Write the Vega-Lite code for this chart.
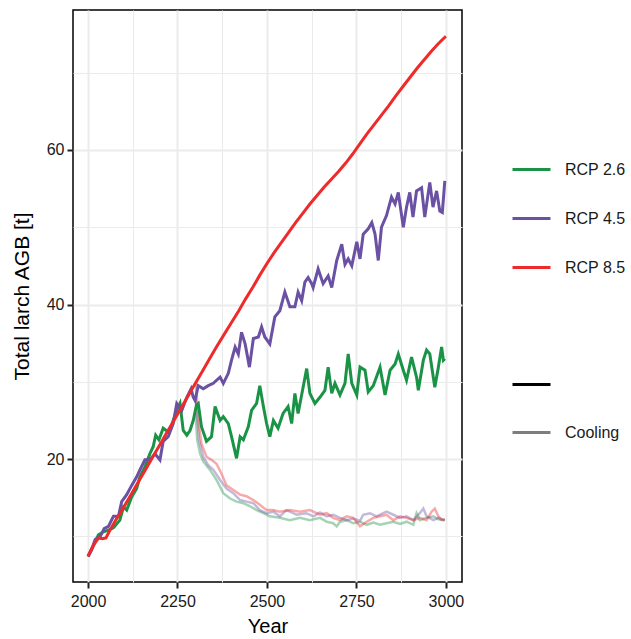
{
  "$schema": "https://vega.github.io/schema/vega-lite/v6.json",
  "width": 389,
  "height": 572,
  "autosize": {"type": "none"},
  "padding": {"left": 73, "top": 10, "right": 169, "bottom": 57},
  "background": "white",
  "config": {
    "font": "Liberation Sans",
    "view": {"stroke": "black", "strokeWidth": 1.5}
  },
  "datasets": {
    "main": [
      {"Year":2000,"AGB":7.4,"Scenario":"RCP 2.6"},{"Year":2010,"AGB":8.3,"Scenario":"RCP 2.6"},{"Year":2029,"AGB":10.2,"Scenario":"RCP 2.6"},{"Year":2043,"AGB":10.6,"Scenario":"RCP 2.6"},{"Year":2057,"AGB":10.8,"Scenario":"RCP 2.6"},{"Year":2071,"AGB":11.1,"Scenario":"RCP 2.6"},{"Year":2089,"AGB":12.1,"Scenario":"RCP 2.6"},{"Year":2099,"AGB":13.8,"Scenario":"RCP 2.6"},{"Year":2108,"AGB":13.4,"Scenario":"RCP 2.6"},{"Year":2122,"AGB":15.1,"Scenario":"RCP 2.6"},{"Year":2136,"AGB":16.2,"Scenario":"RCP 2.6"},{"Year":2145,"AGB":17.7,"Scenario":"RCP 2.6"},{"Year":2159,"AGB":19.0,"Scenario":"RCP 2.6"},{"Year":2173,"AGB":20.7,"Scenario":"RCP 2.6"},{"Year":2182,"AGB":21.6,"Scenario":"RCP 2.6"},{"Year":2189,"AGB":23.1,"Scenario":"RCP 2.6"},{"Year":2198,"AGB":22.5,"Scenario":"RCP 2.6"},{"Year":2210,"AGB":24.0,"Scenario":"RCP 2.6"},{"Year":2224,"AGB":23.5,"Scenario":"RCP 2.6"},{"Year":2235,"AGB":24.6,"Scenario":"RCP 2.6"},{"Year":2248,"AGB":26.3,"Scenario":"RCP 2.6"},{"Year":2257,"AGB":27.2,"Scenario":"RCP 2.6"},{"Year":2266,"AGB":23.7,"Scenario":"RCP 2.6"},{"Year":2276,"AGB":23.1,"Scenario":"RCP 2.6"},{"Year":2285,"AGB":23.7,"Scenario":"RCP 2.6"},{"Year":2294,"AGB":25.0,"Scenario":"RCP 2.6"},{"Year":2303,"AGB":27.0,"Scenario":"RCP 2.6"},{"Year":2308,"AGB":27.2,"Scenario":"RCP 2.6"},{"Year":2317,"AGB":24.2,"Scenario":"RCP 2.6"},{"Year":2331,"AGB":22.3,"Scenario":"RCP 2.6"},{"Year":2345,"AGB":22.9,"Scenario":"RCP 2.6"},{"Year":2355,"AGB":26.8,"Scenario":"RCP 2.6"},{"Year":2369,"AGB":25.0,"Scenario":"RCP 2.6"},{"Year":2378,"AGB":25.5,"Scenario":"RCP 2.6"},{"Year":2392,"AGB":24.6,"Scenario":"RCP 2.6"},{"Year":2401,"AGB":22.9,"Scenario":"RCP 2.6"},{"Year":2415,"AGB":20.1,"Scenario":"RCP 2.6"},{"Year":2425,"AGB":22.9,"Scenario":"RCP 2.6"},{"Year":2434,"AGB":22.5,"Scenario":"RCP 2.6"},{"Year":2448,"AGB":24.2,"Scenario":"RCP 2.6"},{"Year":2457,"AGB":26.3,"Scenario":"RCP 2.6"},{"Year":2471,"AGB":27.2,"Scenario":"RCP 2.6"},{"Year":2480,"AGB":29.5,"Scenario":"RCP 2.6"},{"Year":2490,"AGB":26.8,"Scenario":"RCP 2.6"},{"Year":2499,"AGB":24.6,"Scenario":"RCP 2.6"},{"Year":2508,"AGB":22.9,"Scenario":"RCP 2.6"},{"Year":2518,"AGB":25.0,"Scenario":"RCP 2.6"},{"Year":2531,"AGB":24.0,"Scenario":"RCP 2.6"},{"Year":2545,"AGB":25.9,"Scenario":"RCP 2.6"},{"Year":2559,"AGB":26.8,"Scenario":"RCP 2.6"},{"Year":2569,"AGB":24.6,"Scenario":"RCP 2.6"},{"Year":2578,"AGB":28.5,"Scenario":"RCP 2.6"},{"Year":2587,"AGB":25.9,"Scenario":"RCP 2.6"},{"Year":2601,"AGB":29.3,"Scenario":"RCP 2.6"},{"Year":2611,"AGB":31.7,"Scenario":"RCP 2.6"},{"Year":2620,"AGB":28.5,"Scenario":"RCP 2.6"},{"Year":2634,"AGB":27.2,"Scenario":"RCP 2.6"},{"Year":2648,"AGB":28.0,"Scenario":"RCP 2.6"},{"Year":2662,"AGB":28.9,"Scenario":"RCP 2.6"},{"Year":2671,"AGB":31.9,"Scenario":"RCP 2.6"},{"Year":2681,"AGB":28.5,"Scenario":"RCP 2.6"},{"Year":2690,"AGB":29.8,"Scenario":"RCP 2.6"},{"Year":2704,"AGB":28.3,"Scenario":"RCP 2.6"},{"Year":2718,"AGB":29.8,"Scenario":"RCP 2.6"},{"Year":2727,"AGB":33.6,"Scenario":"RCP 2.6"},{"Year":2737,"AGB":29.8,"Scenario":"RCP 2.6"},{"Year":2751,"AGB":28.3,"Scenario":"RCP 2.6"},{"Year":2760,"AGB":31.9,"Scenario":"RCP 2.6"},{"Year":2774,"AGB":31.5,"Scenario":"RCP 2.6"},{"Year":2783,"AGB":28.7,"Scenario":"RCP 2.6"},{"Year":2797,"AGB":29.5,"Scenario":"RCP 2.6"},{"Year":2816,"AGB":31.9,"Scenario":"RCP 2.6"},{"Year":2830,"AGB":28.3,"Scenario":"RCP 2.6"},{"Year":2844,"AGB":31.5,"Scenario":"RCP 2.6"},{"Year":2858,"AGB":32.3,"Scenario":"RCP 2.6"},{"Year":2867,"AGB":33.6,"Scenario":"RCP 2.6"},{"Year":2881,"AGB":31.5,"Scenario":"RCP 2.6"},{"Year":2890,"AGB":30.2,"Scenario":"RCP 2.6"},{"Year":2904,"AGB":33.2,"Scenario":"RCP 2.6"},{"Year":2918,"AGB":30.6,"Scenario":"RCP 2.6"},{"Year":2923,"AGB":28.9,"Scenario":"RCP 2.6"},{"Year":2937,"AGB":32.8,"Scenario":"RCP 2.6"},{"Year":2946,"AGB":34.1,"Scenario":"RCP 2.6"},{"Year":2955,"AGB":33.6,"Scenario":"RCP 2.6"},{"Year":2969,"AGB":29.3,"Scenario":"RCP 2.6"},{"Year":2979,"AGB":31.9,"Scenario":"RCP 2.6"},{"Year":2988,"AGB":34.5,"Scenario":"RCP 2.6"},{"Year":2993,"AGB":32.8,"Scenario":"RCP 2.6"},{"Year":2997,"AGB":33.0,"Scenario":"RCP 2.6"},
      {"Year":2000,"AGB":7.4,"Scenario":"RCP 4.5"},{"Year":2010,"AGB":8.3,"Scenario":"RCP 4.5"},{"Year":2020,"AGB":9.6,"Scenario":"RCP 4.5"},{"Year":2034,"AGB":10.0,"Scenario":"RCP 4.5"},{"Year":2045,"AGB":11.0,"Scenario":"RCP 4.5"},{"Year":2057,"AGB":11.3,"Scenario":"RCP 4.5"},{"Year":2071,"AGB":12.6,"Scenario":"RCP 4.5"},{"Year":2085,"AGB":12.6,"Scenario":"RCP 4.5"},{"Year":2094,"AGB":14.5,"Scenario":"RCP 4.5"},{"Year":2108,"AGB":15.4,"Scenario":"RCP 4.5"},{"Year":2122,"AGB":16.6,"Scenario":"RCP 4.5"},{"Year":2136,"AGB":17.7,"Scenario":"RCP 4.5"},{"Year":2145,"AGB":18.6,"Scenario":"RCP 4.5"},{"Year":2159,"AGB":19.9,"Scenario":"RCP 4.5"},{"Year":2173,"AGB":19.9,"Scenario":"RCP 4.5"},{"Year":2187,"AGB":20.7,"Scenario":"RCP 4.5"},{"Year":2201,"AGB":19.9,"Scenario":"RCP 4.5"},{"Year":2210,"AGB":22.3,"Scenario":"RCP 4.5"},{"Year":2224,"AGB":22.9,"Scenario":"RCP 4.5"},{"Year":2238,"AGB":24.6,"Scenario":"RCP 4.5"},{"Year":2248,"AGB":27.2,"Scenario":"RCP 4.5"},{"Year":2262,"AGB":26.3,"Scenario":"RCP 4.5"},{"Year":2276,"AGB":28.0,"Scenario":"RCP 4.5"},{"Year":2288,"AGB":29.1,"Scenario":"RCP 4.5"},{"Year":2294,"AGB":28.0,"Scenario":"RCP 4.5"},{"Year":2299,"AGB":27.6,"Scenario":"RCP 4.5"},{"Year":2308,"AGB":29.5,"Scenario":"RCP 4.5"},{"Year":2322,"AGB":29.1,"Scenario":"RCP 4.5"},{"Year":2336,"AGB":29.5,"Scenario":"RCP 4.5"},{"Year":2350,"AGB":29.8,"Scenario":"RCP 4.5"},{"Year":2359,"AGB":30.2,"Scenario":"RCP 4.5"},{"Year":2369,"AGB":30.6,"Scenario":"RCP 4.5"},{"Year":2378,"AGB":29.8,"Scenario":"RCP 4.5"},{"Year":2392,"AGB":31.1,"Scenario":"RCP 4.5"},{"Year":2401,"AGB":32.8,"Scenario":"RCP 4.5"},{"Year":2411,"AGB":34.5,"Scenario":"RCP 4.5"},{"Year":2420,"AGB":33.6,"Scenario":"RCP 4.5"},{"Year":2429,"AGB":36.4,"Scenario":"RCP 4.5"},{"Year":2439,"AGB":34.9,"Scenario":"RCP 4.5"},{"Year":2451,"AGB":31.9,"Scenario":"RCP 4.5"},{"Year":2462,"AGB":35.6,"Scenario":"RCP 4.5"},{"Year":2476,"AGB":35.8,"Scenario":"RCP 4.5"},{"Year":2485,"AGB":37.1,"Scenario":"RCP 4.5"},{"Year":2494,"AGB":35.8,"Scenario":"RCP 4.5"},{"Year":2508,"AGB":34.9,"Scenario":"RCP 4.5"},{"Year":2522,"AGB":38.4,"Scenario":"RCP 4.5"},{"Year":2536,"AGB":39.2,"Scenario":"RCP 4.5"},{"Year":2550,"AGB":41.6,"Scenario":"RCP 4.5"},{"Year":2564,"AGB":39.7,"Scenario":"RCP 4.5"},{"Year":2578,"AGB":39.7,"Scenario":"RCP 4.5"},{"Year":2587,"AGB":41.6,"Scenario":"RCP 4.5"},{"Year":2597,"AGB":40.5,"Scenario":"RCP 4.5"},{"Year":2606,"AGB":42.9,"Scenario":"RCP 4.5"},{"Year":2615,"AGB":43.5,"Scenario":"RCP 4.5"},{"Year":2625,"AGB":42.7,"Scenario":"RCP 4.5"},{"Year":2629,"AGB":42.2,"Scenario":"RCP 4.5"},{"Year":2643,"AGB":44.6,"Scenario":"RCP 4.5"},{"Year":2657,"AGB":42.7,"Scenario":"RCP 4.5"},{"Year":2671,"AGB":43.7,"Scenario":"RCP 4.5"},{"Year":2681,"AGB":42.2,"Scenario":"RCP 4.5"},{"Year":2695,"AGB":45.7,"Scenario":"RCP 4.5"},{"Year":2709,"AGB":47.8,"Scenario":"RCP 4.5"},{"Year":2718,"AGB":45.2,"Scenario":"RCP 4.5"},{"Year":2727,"AGB":45.9,"Scenario":"RCP 4.5"},{"Year":2737,"AGB":45.0,"Scenario":"RCP 4.5"},{"Year":2751,"AGB":48.1,"Scenario":"RCP 4.5"},{"Year":2760,"AGB":45.9,"Scenario":"RCP 4.5"},{"Year":2769,"AGB":49.1,"Scenario":"RCP 4.5"},{"Year":2783,"AGB":49.8,"Scenario":"RCP 4.5"},{"Year":2793,"AGB":50.6,"Scenario":"RCP 4.5"},{"Year":2802,"AGB":49.1,"Scenario":"RCP 4.5"},{"Year":2811,"AGB":45.7,"Scenario":"RCP 4.5"},{"Year":2820,"AGB":50.0,"Scenario":"RCP 4.5"},{"Year":2834,"AGB":51.5,"Scenario":"RCP 4.5"},{"Year":2848,"AGB":53.9,"Scenario":"RCP 4.5"},{"Year":2858,"AGB":53.0,"Scenario":"RCP 4.5"},{"Year":2867,"AGB":54.5,"Scenario":"RCP 4.5"},{"Year":2881,"AGB":50.0,"Scenario":"RCP 4.5"},{"Year":2890,"AGB":52.6,"Scenario":"RCP 4.5"},{"Year":2899,"AGB":54.5,"Scenario":"RCP 4.5"},{"Year":2908,"AGB":51.3,"Scenario":"RCP 4.5"},{"Year":2918,"AGB":54.7,"Scenario":"RCP 4.5"},{"Year":2932,"AGB":55.1,"Scenario":"RCP 4.5"},{"Year":2941,"AGB":51.3,"Scenario":"RCP 4.5"},{"Year":2955,"AGB":55.8,"Scenario":"RCP 4.5"},{"Year":2964,"AGB":52.6,"Scenario":"RCP 4.5"},{"Year":2974,"AGB":54.7,"Scenario":"RCP 4.5"},{"Year":2983,"AGB":52.1,"Scenario":"RCP 4.5"},{"Year":2990,"AGB":51.9,"Scenario":"RCP 4.5"},{"Year":2997,"AGB":56.0,"Scenario":"RCP 4.5"},
      {"Year":2000,"AGB":7.4,"Scenario":"RCP 8.5"},{"Year":2010,"AGB":8.4,"Scenario":"RCP 8.5"},{"Year":2020,"AGB":9.2,"Scenario":"RCP 8.5"},{"Year":2030,"AGB":9.8,"Scenario":"RCP 8.5"},{"Year":2040,"AGB":9.7,"Scenario":"RCP 8.5"},{"Year":2050,"AGB":9.8,"Scenario":"RCP 8.5"},{"Year":2060,"AGB":10.7,"Scenario":"RCP 8.5"},{"Year":2070,"AGB":11.5,"Scenario":"RCP 8.5"},{"Year":2080,"AGB":12.3,"Scenario":"RCP 8.5"},{"Year":2090,"AGB":13.0,"Scenario":"RCP 8.5"},{"Year":2100,"AGB":13.8,"Scenario":"RCP 8.5"},{"Year":2120,"AGB":15.4,"Scenario":"RCP 8.5"},{"Year":2140,"AGB":17.0,"Scenario":"RCP 8.5"},{"Year":2160,"AGB":18.6,"Scenario":"RCP 8.5"},{"Year":2180,"AGB":20.2,"Scenario":"RCP 8.5"},{"Year":2200,"AGB":21.8,"Scenario":"RCP 8.5"},{"Year":2220,"AGB":23.4,"Scenario":"RCP 8.5"},{"Year":2240,"AGB":25.0,"Scenario":"RCP 8.5"},{"Year":2260,"AGB":26.6,"Scenario":"RCP 8.5"},{"Year":2280,"AGB":28.2,"Scenario":"RCP 8.5"},{"Year":2300,"AGB":29.8,"Scenario":"RCP 8.5"},{"Year":2320,"AGB":31.4,"Scenario":"RCP 8.5"},{"Year":2340,"AGB":33.0,"Scenario":"RCP 8.5"},{"Year":2360,"AGB":34.6,"Scenario":"RCP 8.5"},{"Year":2380,"AGB":36.1,"Scenario":"RCP 8.5"},{"Year":2400,"AGB":37.6,"Scenario":"RCP 8.5"},{"Year":2420,"AGB":39.1,"Scenario":"RCP 8.5"},{"Year":2440,"AGB":40.7,"Scenario":"RCP 8.5"},{"Year":2460,"AGB":42.2,"Scenario":"RCP 8.5"},{"Year":2480,"AGB":43.8,"Scenario":"RCP 8.5"},{"Year":2500,"AGB":45.3,"Scenario":"RCP 8.5"},{"Year":2520,"AGB":46.7,"Scenario":"RCP 8.5"},{"Year":2540,"AGB":48.0,"Scenario":"RCP 8.5"},{"Year":2560,"AGB":49.3,"Scenario":"RCP 8.5"},{"Year":2580,"AGB":50.6,"Scenario":"RCP 8.5"},{"Year":2600,"AGB":51.8,"Scenario":"RCP 8.5"},{"Year":2620,"AGB":53.0,"Scenario":"RCP 8.5"},{"Year":2640,"AGB":54.1,"Scenario":"RCP 8.5"},{"Year":2660,"AGB":55.2,"Scenario":"RCP 8.5"},{"Year":2680,"AGB":56.2,"Scenario":"RCP 8.5"},{"Year":2700,"AGB":57.2,"Scenario":"RCP 8.5"},{"Year":2720,"AGB":58.3,"Scenario":"RCP 8.5"},{"Year":2740,"AGB":59.5,"Scenario":"RCP 8.5"},{"Year":2760,"AGB":60.8,"Scenario":"RCP 8.5"},{"Year":2780,"AGB":62.1,"Scenario":"RCP 8.5"},{"Year":2800,"AGB":63.3,"Scenario":"RCP 8.5"},{"Year":2820,"AGB":64.5,"Scenario":"RCP 8.5"},{"Year":2840,"AGB":65.7,"Scenario":"RCP 8.5"},{"Year":2860,"AGB":67.0,"Scenario":"RCP 8.5"},{"Year":2880,"AGB":68.2,"Scenario":"RCP 8.5"},{"Year":2900,"AGB":69.4,"Scenario":"RCP 8.5"},{"Year":2920,"AGB":70.6,"Scenario":"RCP 8.5"},{"Year":2940,"AGB":71.7,"Scenario":"RCP 8.5"},{"Year":2960,"AGB":72.8,"Scenario":"RCP 8.5"},{"Year":2980,"AGB":73.8,"Scenario":"RCP 8.5"},{"Year":3000,"AGB":74.7,"Scenario":"RCP 8.5"}
    ],
    "cooling": [
      {"Year":2300,"AGB":26.0,"Scenario":"RCP 2.6"},{"Year":2305,"AGB":22.5,"Scenario":"RCP 2.6"},{"Year":2313,"AGB":20.7,"Scenario":"RCP 2.6"},{"Year":2322,"AGB":19.7,"Scenario":"RCP 2.6"},{"Year":2341,"AGB":18.6,"Scenario":"RCP 2.6"},{"Year":2359,"AGB":17.3,"Scenario":"RCP 2.6"},{"Year":2378,"AGB":15.6,"Scenario":"RCP 2.6"},{"Year":2397,"AGB":14.9,"Scenario":"RCP 2.6"},{"Year":2415,"AGB":14.5,"Scenario":"RCP 2.6"},{"Year":2434,"AGB":14.3,"Scenario":"RCP 2.6"},{"Year":2453,"AGB":13.9,"Scenario":"RCP 2.6"},{"Year":2471,"AGB":13.4,"Scenario":"RCP 2.6"},{"Year":2490,"AGB":13.0,"Scenario":"RCP 2.6"},{"Year":2508,"AGB":12.6,"Scenario":"RCP 2.6"},{"Year":2536,"AGB":12.4,"Scenario":"RCP 2.6"},{"Year":2564,"AGB":12.1,"Scenario":"RCP 2.6"},{"Year":2592,"AGB":12.4,"Scenario":"RCP 2.6"},{"Year":2620,"AGB":12.1,"Scenario":"RCP 2.6"},{"Year":2648,"AGB":12.4,"Scenario":"RCP 2.6"},{"Year":2667,"AGB":11.9,"Scenario":"RCP 2.6"},{"Year":2685,"AGB":11.7,"Scenario":"RCP 2.6"},{"Year":2695,"AGB":11.3,"Scenario":"RCP 2.6"},{"Year":2704,"AGB":11.9,"Scenario":"RCP 2.6"},{"Year":2723,"AGB":12.1,"Scenario":"RCP 2.6"},{"Year":2741,"AGB":11.7,"Scenario":"RCP 2.6"},{"Year":2760,"AGB":11.9,"Scenario":"RCP 2.6"},{"Year":2779,"AGB":11.5,"Scenario":"RCP 2.6"},{"Year":2797,"AGB":11.8,"Scenario":"RCP 2.6"},{"Year":2816,"AGB":11.5,"Scenario":"RCP 2.6"},{"Year":2834,"AGB":11.7,"Scenario":"RCP 2.6"},{"Year":2853,"AGB":11.9,"Scenario":"RCP 2.6"},{"Year":2872,"AGB":11.6,"Scenario":"RCP 2.6"},{"Year":2890,"AGB":11.9,"Scenario":"RCP 2.6"},{"Year":2909,"AGB":11.5,"Scenario":"RCP 2.6"},{"Year":2918,"AGB":13.0,"Scenario":"RCP 2.6"},{"Year":2927,"AGB":12.1,"Scenario":"RCP 2.6"},{"Year":2946,"AGB":12.4,"Scenario":"RCP 2.6"},{"Year":2965,"AGB":12.6,"Scenario":"RCP 2.6"},{"Year":2979,"AGB":12.2,"Scenario":"RCP 2.6"},{"Year":2997,"AGB":12.1,"Scenario":"RCP 2.6"},
      {"Year":2300,"AGB":28.0,"Scenario":"RCP 4.5"},{"Year":2305,"AGB":25.5,"Scenario":"RCP 4.5"},{"Year":2310,"AGB":22.5,"Scenario":"RCP 4.5"},{"Year":2322,"AGB":20.3,"Scenario":"RCP 4.5"},{"Year":2336,"AGB":19.2,"Scenario":"RCP 4.5"},{"Year":2350,"AGB":18.6,"Scenario":"RCP 4.5"},{"Year":2369,"AGB":17.3,"Scenario":"RCP 4.5"},{"Year":2387,"AGB":16.2,"Scenario":"RCP 4.5"},{"Year":2406,"AGB":15.6,"Scenario":"RCP 4.5"},{"Year":2425,"AGB":14.7,"Scenario":"RCP 4.5"},{"Year":2443,"AGB":14.5,"Scenario":"RCP 4.5"},{"Year":2462,"AGB":14.3,"Scenario":"RCP 4.5"},{"Year":2480,"AGB":13.4,"Scenario":"RCP 4.5"},{"Year":2499,"AGB":13.0,"Scenario":"RCP 4.5"},{"Year":2518,"AGB":13.2,"Scenario":"RCP 4.5"},{"Year":2536,"AGB":12.6,"Scenario":"RCP 4.5"},{"Year":2555,"AGB":13.4,"Scenario":"RCP 4.5"},{"Year":2583,"AGB":12.8,"Scenario":"RCP 4.5"},{"Year":2610,"AGB":13.0,"Scenario":"RCP 4.5"},{"Year":2630,"AGB":12.6,"Scenario":"RCP 4.5"},{"Year":2648,"AGB":13.1,"Scenario":"RCP 4.5"},{"Year":2667,"AGB":12.6,"Scenario":"RCP 4.5"},{"Year":2685,"AGB":12.8,"Scenario":"RCP 4.5"},{"Year":2704,"AGB":12.4,"Scenario":"RCP 4.5"},{"Year":2723,"AGB":12.1,"Scenario":"RCP 4.5"},{"Year":2741,"AGB":12.3,"Scenario":"RCP 4.5"},{"Year":2760,"AGB":12.0,"Scenario":"RCP 4.5"},{"Year":2769,"AGB":12.8,"Scenario":"RCP 4.5"},{"Year":2788,"AGB":13.0,"Scenario":"RCP 4.5"},{"Year":2806,"AGB":12.6,"Scenario":"RCP 4.5"},{"Year":2825,"AGB":13.0,"Scenario":"RCP 4.5"},{"Year":2834,"AGB":13.2,"Scenario":"RCP 4.5"},{"Year":2853,"AGB":12.8,"Scenario":"RCP 4.5"},{"Year":2872,"AGB":12.4,"Scenario":"RCP 4.5"},{"Year":2890,"AGB":12.6,"Scenario":"RCP 4.5"},{"Year":2909,"AGB":12.1,"Scenario":"RCP 4.5"},{"Year":2927,"AGB":13.0,"Scenario":"RCP 4.5"},{"Year":2937,"AGB":13.6,"Scenario":"RCP 4.5"},{"Year":2946,"AGB":12.6,"Scenario":"RCP 4.5"},{"Year":2965,"AGB":12.1,"Scenario":"RCP 4.5"},{"Year":2979,"AGB":12.4,"Scenario":"RCP 4.5"},{"Year":2997,"AGB":12.1,"Scenario":"RCP 4.5"},
      {"Year":2300,"AGB":29.8,"Scenario":"RCP 8.5"},{"Year":2303,"AGB":29.0,"Scenario":"RCP 8.5"},{"Year":2308,"AGB":25.0,"Scenario":"RCP 8.5"},{"Year":2317,"AGB":22.0,"Scenario":"RCP 8.5"},{"Year":2331,"AGB":20.3,"Scenario":"RCP 8.5"},{"Year":2345,"AGB":19.9,"Scenario":"RCP 8.5"},{"Year":2359,"AGB":19.4,"Scenario":"RCP 8.5"},{"Year":2373,"AGB":18.1,"Scenario":"RCP 8.5"},{"Year":2387,"AGB":16.6,"Scenario":"RCP 8.5"},{"Year":2406,"AGB":16.0,"Scenario":"RCP 8.5"},{"Year":2425,"AGB":15.4,"Scenario":"RCP 8.5"},{"Year":2443,"AGB":15.2,"Scenario":"RCP 8.5"},{"Year":2462,"AGB":14.7,"Scenario":"RCP 8.5"},{"Year":2480,"AGB":14.1,"Scenario":"RCP 8.5"},{"Year":2499,"AGB":13.4,"Scenario":"RCP 8.5"},{"Year":2518,"AGB":13.4,"Scenario":"RCP 8.5"},{"Year":2536,"AGB":13.2,"Scenario":"RCP 8.5"},{"Year":2564,"AGB":13.4,"Scenario":"RCP 8.5"},{"Year":2592,"AGB":13.2,"Scenario":"RCP 8.5"},{"Year":2620,"AGB":13.4,"Scenario":"RCP 8.5"},{"Year":2648,"AGB":12.8,"Scenario":"RCP 8.5"},{"Year":2667,"AGB":13.0,"Scenario":"RCP 8.5"},{"Year":2685,"AGB":12.4,"Scenario":"RCP 8.5"},{"Year":2704,"AGB":12.1,"Scenario":"RCP 8.5"},{"Year":2723,"AGB":12.6,"Scenario":"RCP 8.5"},{"Year":2741,"AGB":12.4,"Scenario":"RCP 8.5"},{"Year":2760,"AGB":11.3,"Scenario":"RCP 8.5"},{"Year":2779,"AGB":11.9,"Scenario":"RCP 8.5"},{"Year":2797,"AGB":12.4,"Scenario":"RCP 8.5"},{"Year":2816,"AGB":12.6,"Scenario":"RCP 8.5"},{"Year":2834,"AGB":12.8,"Scenario":"RCP 8.5"},{"Year":2853,"AGB":12.1,"Scenario":"RCP 8.5"},{"Year":2872,"AGB":12.6,"Scenario":"RCP 8.5"},{"Year":2890,"AGB":12.4,"Scenario":"RCP 8.5"},{"Year":2909,"AGB":12.1,"Scenario":"RCP 8.5"},{"Year":2927,"AGB":12.4,"Scenario":"RCP 8.5"},{"Year":2946,"AGB":12.1,"Scenario":"RCP 8.5"},{"Year":2960,"AGB":13.2,"Scenario":"RCP 8.5"},{"Year":2969,"AGB":13.6,"Scenario":"RCP 8.5"},{"Year":2979,"AGB":12.6,"Scenario":"RCP 8.5"},{"Year":2988,"AGB":12.1,"Scenario":"RCP 8.5"},{"Year":2997,"AGB":12.2,"Scenario":"RCP 8.5"}
    ],
    "types": [
      {"Type":"Main"},{"Type":"Cooling"}
    ]
  },
  "encoding": {
    "x": {
      "field": "Year", "type": "quantitative",
      "scale": {"domain": [1958, 3045], "nice": false, "zero": false},
      "axis": {
        "title": "Year", "values": [2000, 2125, 2250, 2375, 2500, 2625, 2750, 2875, 3000],
        "format": "d", "labelExpr": "datum.value % 250 == 0 ? datum.label : ''",
        "domain": false, "grid": true, "gridColor": "#ebebeb",
        "gridWidth": {"condition": {"test": "datum.value % 250 == 0", "value": 2}, "value": 1},
        "tickColor": "#222222", "tickWidth": 2, "tickSize": 6,
        "tickOpacity": {"condition": {"test": "datum.value % 250 == 0", "value": 1}, "value": 0},
        "labelFont": "Liberation Sans", "labelFontSize": 16, "labelColor": "#1a1a1a", "labelPadding": 5,
        "titleFont": "Liberation Sans", "titleFontSize": 20, "titleFontWeight": "normal", "titleColor": "black", "titlePadding": 7
      }
    },
    "y": {
      "field": "AGB", "type": "quantitative",
      "scale": {"domain": [4.1, 78.1], "nice": false, "zero": false},
      "axis": {
        "title": "Total larch AGB [t]", "values": [10, 20, 30, 40, 50, 60, 70],
        "labelExpr": "datum.value % 20 == 0 ? datum.label : ''",
        "domain": false, "grid": true, "gridColor": "#ebebeb",
        "gridWidth": {"condition": {"test": "datum.value % 20 == 0", "value": 2}, "value": 1},
        "tickColor": "#222222", "tickWidth": 2, "tickSize": 6,
        "tickOpacity": {"condition": {"test": "datum.value % 20 == 0", "value": 1}, "value": 0},
        "labelFont": "Liberation Sans", "labelFontSize": 16, "labelColor": "#1a1a1a", "labelPadding": 3,
        "titleFont": "Liberation Sans", "titleFontSize": 21, "titleFontWeight": "normal", "titleColor": "black", "titlePadding": 14
      }
    },
    "color": {
      "field": "Scenario", "type": "nominal",
      "scale": {"domain": ["RCP 2.6", "RCP 4.5", "RCP 8.5"], "range": ["#1b9347", "#6a51a3", "#ee2a2a"]},
      "legend": {
        "title": null, "orient": "none", "legendX": 438, "legendY": 139,
        "symbolType": "stroke", "symbolSize": 1444, "symbolStrokeWidth": 3, "symbolOpacity": 1,
        "labelFont": "Liberation Sans", "labelFontSize": 16, "labelColor": "#1a1a1a", "labelOffset": 13,
        "rowPadding": 20, "padding": 0
      }
    }
  },
  "layer": [
    {
      "data": {"name": "cooling"},
      "mark": {"type": "line", "strokeWidth": 2.5, "opacity": 0.4}
    },
    {
      "data": {"name": "main"},
      "mark": {"type": "line", "strokeWidth": 3}
    },
    {
      "data": {"name": "types"},
      "mark": {"type": "line", "strokeWidth": 3},
      "encoding": {
        "x": {"datum": null},
        "y": {"datum": null},
        "color": {"value": "black"},
        "opacity": {
          "field": "Type", "type": "nominal",
          "scale": {"domain": ["Main", "Cooling"], "range": [1, 0.5]},
          "legend": {
            "title": null, "orient": "none", "legendX": 438, "legendY": 354,
            "symbolType": "stroke", "symbolSize": 1444, "symbolStrokeWidth": 3, "symbolStrokeColor": "black",
            "labelExpr": "datum.label == 'Main' ? '' : datum.label",
            "labelFont": "Liberation Sans", "labelFontSize": 16, "labelColor": "#1a1a1a", "labelOffset": 13,
            "rowPadding": 19, "padding": 0
          }
        }
      }
    }
  ]
}
